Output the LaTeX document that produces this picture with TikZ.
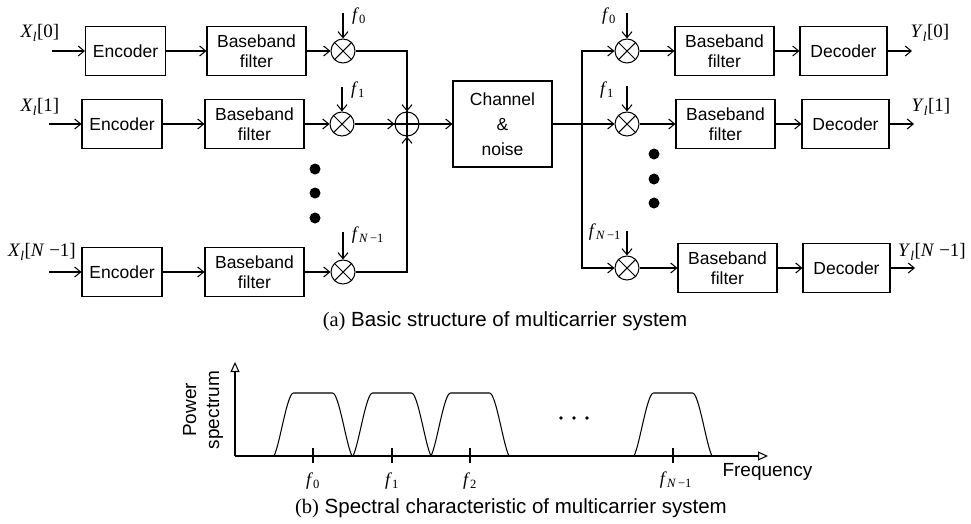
\documentclass[tikz,border=0pt]{standalone}
\usepackage{fontspec}
\setmainfont{Liberation Sans}
\newfontfamily\tm{Liberation Serif}
\usetikzlibrary{arrows.meta}
\newcommand{\mysub}[1]{\textsubscript{#1}}
\newcommand{\Xl}[1]{\textit{X}\mysub{\textit{l}}[#1]}
\newcommand{\Yl}[1]{\textit{Y}\mysub{\textit{l}}[#1]}
\newcommand{\fN}{\textit{f}\mysub{\textit{N}\,−1}}
\begin{document}
\begin{tikzpicture}[x=1pt,y=-1pt,line width=1.05pt,
  >={Straight Barb[length=6pt,width=10pt]},
  blk/.style={draw,minimum height=49pt,align=center,inner sep=0pt,font=\fontsize{17.5}{20}\selectfont},
  enc/.style={blk,minimum width=80pt},
  filt/.style={blk,minimum width=99pt},
  dec/.style={blk,minimum width=87pt},
  mix/.style={draw,circle,minimum size=24pt,inner sep=0pt},
  lab/.style={font=\tm\fontsize{19}{22}\selectfont,inner sep=0pt},
  flab/.style={font=\tm\fontsize{18}{21}\selectfont,inner sep=0pt},
  captxt/.style={font=\fontsize{20.5}{23}\selectfont,inner sep=0pt}]
\fill[white] (0,0) rectangle (971,523);
\path[use as bounding box] (0,0) rectangle (971,523);
% ---- transmitter ----
\node[enc] (e0) at (125.5,51) {Encoder};
\node[enc] (e1) at (122,124) {Encoder};
\node[enc] (eN) at (122,272) {Encoder};
\node[filt] (b0) at (256.5,51) {Baseband\\filter};
\node[filt] (b1) at (254.5,124) {Baseband\\filter};
\node[filt] (bN) at (254.5,272) {Baseband\\filter};
\node[mix] (m0) at (343,51) {};
\node[mix] (m1) at (342,124) {};
\node[mix] (mN) at (343,272) {};
\node[mix] (s) at (407,124) {};
\coordinate (i0) at (52,51);
\coordinate (i1) at (49,124);
\coordinate (iN) at (49,272);
\node[lab] (x0) at (40,33) {\Xl{0}};
\node[lab] (x1) at (40,107) {\Xl{1}};
\node[lab] (xN) at (42,252) {\Xl{\textit{N} −1}};
\coordinate (ft0) at (343,13);
\coordinate (ft1) at (342,87);
\coordinate (ftN) at (343,232);
\node[flab] (lt0) at (359,16) {\textit{f}\mysub{0}};
\node[flab] (lt1) at (358,90) {\textit{f}\mysub{1}};
\node[flab] (ltN) at (368,235) {\fN};
\foreach \a/\b in {i0/e0,i1/e1,iN/eN,e0/b0,e1/b1,eN/bN,b0/m0,b1/m1,bN/mN}
  \draw[->] (\a) -- (\b);
\draw[->] (ft0) -- (m0.north);
\draw[->] (ft1) -- (m1.north);
\draw[->] (ftN) -- (mN.north);
\draw[->] (m0.east) -| (s.north);
\draw[->] (m1.east) -- (s.west);
\draw[->] (mN.east) -| (s.south);
\foreach \y in {169,193,218} \fill (315,\y) circle (5.5);
% ---- channel ----
\node[blk,minimum width=99pt,minimum height=86pt,font=\fontsize{17.5}{25}\selectfont] (ch) at (502.5,124) {Channel\\\&\\noise};
\draw[->] (s.east) -- (ch.west);
% ---- receiver ----
\coordinate (bus) at (582,124);
\node[mix] (r0) at (627,51) {};
\node[mix] (r1) at (627,124) {};
\node[mix] (rN) at (627,268) {};
\node[filt] (c0) at (724.5,51) {Baseband\\filter};
\node[filt] (c1) at (725.5,124) {Baseband\\filter};
\node[filt] (cN) at (727.5,268) {Baseband\\filter};
\node[dec] (d0) at (843.5,51) {Decoder};
\node[dec] (d1) at (845.5,124) {Decoder};
\node[dec] (dN) at (846.5,268) {Decoder};
\coordinate (o0) at (912,51);
\coordinate (o1) at (914,124);
\coordinate (oN) at (915,268);
\node[lab] (y0) at (930,33) {\Yl{0}};
\node[lab] (y1) at (931,107) {\Yl{1}};
\node[lab] (yN) at (932,252) {\Yl{\textit{N} −1}};
\coordinate (fr0) at (627,13);
\coordinate (fr1) at (627,86);
\coordinate (frN) at (627,231);
\node[flab] (lr0) at (609,16) {\textit{f}\mysub{0}};
\node[flab] (lr1) at (607,90) {\textit{f}\mysub{1}};
\node[flab] (lrN) at (605,232) {\fN};
\draw (ch.east) -- (bus);
\draw[->] (bus) |- (r0.west);
\draw[->] (bus) -- (r1.west);
\draw[->] (bus) |- (rN.west);
\draw[->] (fr0) -- (r0.north);
\draw[->] (fr1) -- (r1.north);
\draw[->] (frN) -- (rN.north);
\foreach \a/\b in {r0/c0,r1/c1,rN/cN,c0/d0,c1/d1,cN/dN,d0/o0,d1/o1,dN/oN}
  \draw[->] (\a) -- (\b);
\foreach \y in {154,179,203} \fill (654,\y) circle (5.5);
\foreach \m in {m0,m1,mN,r0,r1,rN}
  \draw (\m.north east) -- (\m.south west) (\m.north west) -- (\m.south east);
\draw (s.north) -- (s.south) (s.west) -- (s.east);
\node[captxt] (capa) at (505,321) {{\tm (a)} Basic structure of multicarrier system};
% ---- spectrum ----
\coordinate (O) at (235,456);
\coordinate (ya) at (235,362);
\coordinate (xa) at (768,456);
\draw[-{Triangle[open,length=10pt,width=9pt]}] (O) -- (ya);
\draw[-{Triangle[open,length=10pt,width=9pt]}] (O) -- (xa);
\foreach \c in {313,392,470,673}{
  \draw (\c-39,456) .. controls (\c-33,444) and (\c-26,393) .. (\c-19.5,393)
        -- (\c+19.5,393) .. controls (\c+26,393) and (\c+33,444) .. (\c+39,456);
  \draw (\c,448) -- (\c,463);
}
\node[flab] (g0) at (313,481) {\textit{f}\mysub{0}};
\node[flab] (g1) at (392,481) {\textit{f}\mysub{1}};
\node[flab] (g2) at (470,481) {\textit{f}\mysub{2}};
\node[flab] (gN) at (676,480) {\fN};
\foreach \x in {561,574,587} \fill (\x,418) circle (1.9);
\node[captxt,rotate=90,align=center,font=\fontsize{19}{23}\selectfont] (ps) at (203,410) {Power\\spectrum};
\node[captxt,anchor=west,font=\fontsize{19}{22}\selectfont] (fq) at (722,472) {Frequency};
\node[captxt] (capb) at (511,508) {{\tm (b)} Spectral characteristic of multicarrier system};
\end{tikzpicture}
\end{document}
